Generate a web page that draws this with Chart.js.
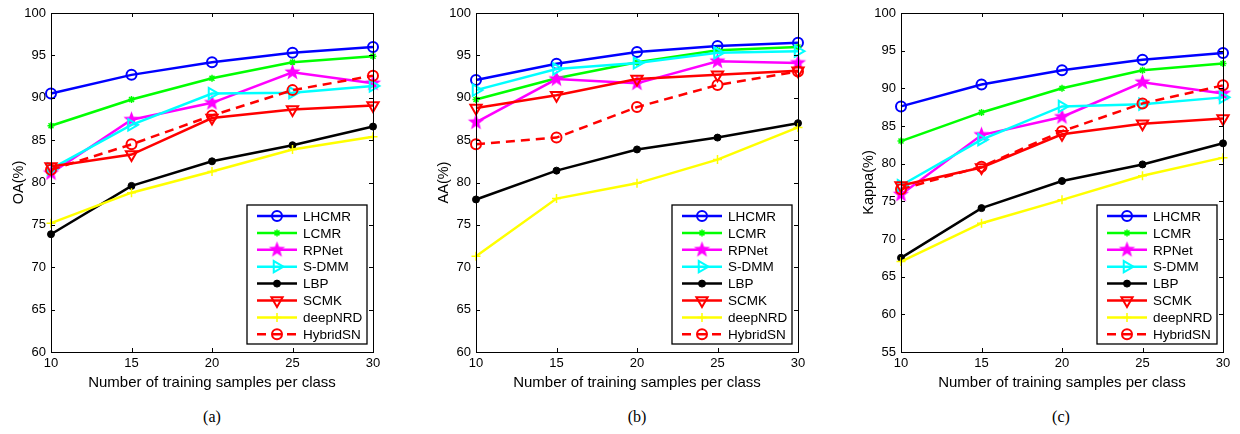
<!DOCTYPE html>
<html>
<head>
<meta charset="utf-8">
<script src="https://cdn.jsdelivr.net/npm/chart.js@4/dist/chart.umd.min.js"></script>
<style>
  html, body { margin: 0; padding: 0; background: #fff; overflow: hidden; }
  body { width: 1240px; height: 434px; position: relative; }
  .plot { position: absolute; top: 0; width: 400px; height: 400px; }
  .cap { position: absolute; top: 408px; width: 40px; text-align: center; line-height: 18px;
         font: 16px 'Liberation Serif', 'Times New Roman', serif; color: #000; }
</style>
</head>
<body>
<div class="plot" style="left:0px"><canvas id="oaChart"></canvas></div>
<div class="plot" style="left:425px"><canvas id="aaChart"></canvas></div>
<div class="plot" style="left:850px"><canvas id="kappaChart"></canvas></div>
<div class="cap" style="left:192px">(a)</div>
<div class="cap" style="left:617px">(b)</div>
<div class="cap" style="left:1041px">(c)</div>
<script>
// training samples per class
const samples = [10, 15, 20, 25, 30];
const methods = ['LHCMR', 'LCMR', 'RPNet', 'S-DMM', 'LBP', 'SCMK', 'deepNRD', 'HybridSN'];

// overall accuracy (%)
const oaLHCMR = [90.5, 92.7, 94.2, 95.3, 96.0];
const oaLCMR = [86.7, 89.8, 92.3, 94.2, 94.9];
const oaRPNet = [81.1, 87.4, 89.4, 93.0, 91.7];
const oaSDMM = [81.6, 86.8, 90.5, 90.6, 91.4];
const oaLBP = [73.9, 79.6, 82.5, 84.4, 86.6];
const oaSCMK = [81.9, 83.3, 87.6, 88.6, 89.1];
const oaDeepNRD = [75.2, 78.8, 81.3, 83.9, 85.4];
const oaHybridSN = [81.5, 84.5, 87.9, 90.9, 92.6];

// average accuracy (%)
const aaLHCMR = [92.1, 94.0, 95.4, 96.1, 96.5];
const aaLCMR = [89.8, 92.3, 94.2, 95.6, 96.0];
const aaRPNet = [87.1, 92.2, 91.7, 94.3, 94.1];
const aaSDMM = [90.9, 93.4, 94.1, 95.3, 95.5];
const aaLBP = [78.0, 81.4, 83.9, 85.3, 87.0];
const aaSCMK = [88.8, 90.3, 92.2, 92.7, 93.2];
const aaDeepNRD = [71.3, 78.1, 79.9, 82.7, 86.5];
const aaHybridSN = [84.5, 85.3, 88.9, 91.5, 93.1];

// kappa coefficient (%)
const kLHCMR = [87.6, 90.5, 92.4, 93.8, 94.7];
const kLCMR = [83.0, 86.8, 90.0, 92.4, 93.3];
const kRPNet = [75.9, 83.8, 86.2, 90.8, 89.3];
const kSDMM = [77.1, 83.2, 87.6, 87.9, 88.8];
const kLBP = [67.5, 74.1, 77.7, 79.9, 82.7];
const kSCMK = [77.1, 79.5, 83.9, 85.3, 86.0];
const kDeepNRD = [67.0, 72.1, 75.2, 78.4, 80.8];
const kHybridSN = [76.6, 79.6, 84.3, 88.0, 90.4];

const FONT = "'Liberation Sans', Arial, Helvetica, sans-serif";

// filled five-point star used for RPNet
function pentagram(r, color) {
  const c = document.createElement('canvas');
  const s = Math.ceil(r * 2 + 2);
  c.width = s; c.height = s;
  const g = c.getContext('2d');
  g.beginPath();
  for (let i = 0; i < 10; i++) {
    const rad = i % 2 === 0 ? r : r * 0.42;
    const a = -Math.PI / 2 + i * Math.PI / 5;
    const px = s / 2 + rad * Math.cos(a), py = s / 2 + rad * Math.sin(a);
    if (i === 0) g.moveTo(px, py); else g.lineTo(px, py);
  }
  g.closePath();
  g.fillStyle = color;
  g.fill();
  return c;
}
const starImg = pentagram(8.5, '#ff00ff');

const styles = [
  { color: '#0000ff', pointStyle: 'circle', radius: 5, fill: 'rgba(0,0,0,0)', bw: 2 },
  { color: '#00ff00', pointStyle: 'star', radius: 3.5, fill: '#00ff00', bw: 1.5 },
  { color: '#ff00ff', pointStyle: starImg, radius: 8.5, fill: '#ff00ff', bw: 0 },
  { color: '#00ffff', pointStyle: 'triangle', rotation: 90, radius: 6.5, fill: 'rgba(0,0,0,0)', bw: 2 },
  { color: '#000000', pointStyle: 'circle', radius: 3.5, fill: '#000000', bw: 1 },
  { color: '#ff0000', pointStyle: 'triangle', rotation: 180, radius: 6.5, fill: 'rgba(0,0,0,0)', bw: 2 },
  { color: '#ffff00', pointStyle: 'cross', radius: 4.5, fill: '#ffff00', bw: 1.5 },
  { color: '#ff0000', pointStyle: 'circle', radius: 5, fill: 'rgba(0,0,0,0)', bw: 2, dash: [9, 6] }
];

// box around the axes with inward ticks on all four sides
const boxTicks = {
  id: 'boxTicks',
  afterDatasetsDraw(chart) {
    const { ctx, chartArea: a, scales: { x, y } } = chart;
    ctx.save();
    ctx.strokeStyle = '#000';
    ctx.lineWidth = 1;
    ctx.beginPath();
    x.ticks.forEach(t => {
      const px = Math.round(x.getPixelForValue(t.value)) + 0.5;
      ctx.moveTo(px, a.bottom); ctx.lineTo(px, a.bottom - 4);
      ctx.moveTo(px, a.top); ctx.lineTo(px, a.top + 4);
    });
    y.ticks.forEach(t => {
      const py = Math.round(y.getPixelForValue(t.value)) + 0.5;
      ctx.moveTo(a.left, py); ctx.lineTo(a.left + 4, py);
      ctx.moveTo(a.right, py); ctx.lineTo(a.right - 4, py);
    });
    ctx.stroke();
    ctx.strokeRect(Math.round(a.left) + 0.5, Math.round(a.top) + 0.5,
      Math.round(a.right - a.left), Math.round(a.bottom - a.top));
    ctx.restore();
  }
};

// legend in the lower right corner of the axes
const boxLegend = {
  id: 'boxLegend',
  afterDraw(chart) {
    const { ctx, chartArea: a } = chart;
    const w = 120, rowH = 16.9, h = 139;
    const x0 = a.right - 6 - w, y0 = a.bottom - 8 - h;
    ctx.save();
    ctx.fillStyle = '#fff';
    ctx.fillRect(x0, y0, w, h);
    ctx.strokeStyle = '#000';
    ctx.lineWidth = 1.3;
    ctx.strokeRect(x0, y0, w, h);
    chart.data.datasets.forEach((ds, i) => {
      const st = styles[i];
      const cy = y0 + 11 + i * rowH;
      ctx.strokeStyle = st.color;
      ctx.lineWidth = 2.5;
      ctx.setLineDash(st.dash || []);
      ctx.beginPath();
      ctx.moveTo(x0 + 10, cy); ctx.lineTo(x0 + 50, cy);
      ctx.stroke();
      ctx.setLineDash([]);
      ctx.fillStyle = st.fill;
      ctx.strokeStyle = st.color;
      ctx.lineWidth = st.bw;
      Chart.helpers.drawPoint(ctx, {
        pointStyle: st.pointStyle, radius: st.radius,
        rotation: st.rotation || 0, borderWidth: st.bw
      }, x0 + 30, cy);
      ctx.fillStyle = '#000';
      ctx.font = '13.5px ' + FONT;
      ctx.textBaseline = 'middle';
      ctx.fillText(ds.label, x0 + 56, cy + 1);
    });
    ctx.restore();
  }
};

function buildChart(canvasId, yTitle, yMin, series) {
  const datasets = series.map((vals, i) => {
    const st = styles[i];
    return {
      label: methods[i],
      data: samples.map((s, j) => ({ x: s, y: vals[j] })),
      borderColor: st.color,
      borderWidth: 2.5,
      borderDash: st.dash || [],
      pointStyle: st.pointStyle,
      pointRadius: st.radius,
      pointRotation: st.rotation || 0,
      pointBackgroundColor: st.fill,
      pointBorderColor: st.color,
      pointBorderWidth: st.bw,
      tension: 0,
      clip: false,
      order: series.length - i
    };
  });
  return new Chart(document.getElementById(canvasId), {
    type: 'line',
    data: { datasets },
    options: {
      responsive: false,
      animation: false,
      events: [],
      layout: { padding: { left: 0, right: 27, top: 13, bottom: 0 } },
      plugins: { legend: { display: false }, tooltip: { enabled: false } },
      scales: {
        x: {
          type: 'linear', min: 10, max: 30,
          afterFit: s => { s.height = 48; },
          ticks: { stepSize: 5, padding: 4, color: '#000', font: { family: FONT, size: 13 } },
          grid: { display: false, drawTicks: false },
          border: { display: false },
          title: { display: true, text: 'Number of training samples per class', color: '#000',
                   font: { family: FONT, size: 15 }, padding: { top: 0, bottom: 8 } }
        },
        y: {
          type: 'linear', min: yMin, max: 100,
          afterFit: s => { s.width = 51; },
          ticks: { stepSize: 5, padding: 5, color: '#000', font: { family: FONT, size: 13 } },
          grid: { display: false, drawTicks: false },
          border: { display: false },
          title: { display: true, text: yTitle, color: '#000',
                   font: { family: FONT, size: 14.5 }, padding: { top: 10, bottom: 0 } }
        }
      }
    },
    plugins: [boxTicks, boxLegend]
  });
}

function sizeCanvas(id) {
  const c = document.getElementById(id);
  c.width = 400; c.height = 400;
  c.style.width = '400px'; c.style.height = '400px';
}
['oaChart', 'aaChart', 'kappaChart'].forEach(sizeCanvas);

buildChart('oaChart', 'OA(%)', 60,
  [oaLHCMR, oaLCMR, oaRPNet, oaSDMM, oaLBP, oaSCMK, oaDeepNRD, oaHybridSN]);
buildChart('aaChart', 'AA(%)', 60,
  [aaLHCMR, aaLCMR, aaRPNet, aaSDMM, aaLBP, aaSCMK, aaDeepNRD, aaHybridSN]);
buildChart('kappaChart', 'Kappa(%)', 55,
  [kLHCMR, kLCMR, kRPNet, kSDMM, kLBP, kSCMK, kDeepNRD, kHybridSN]);
</script>
</body>
</html>
